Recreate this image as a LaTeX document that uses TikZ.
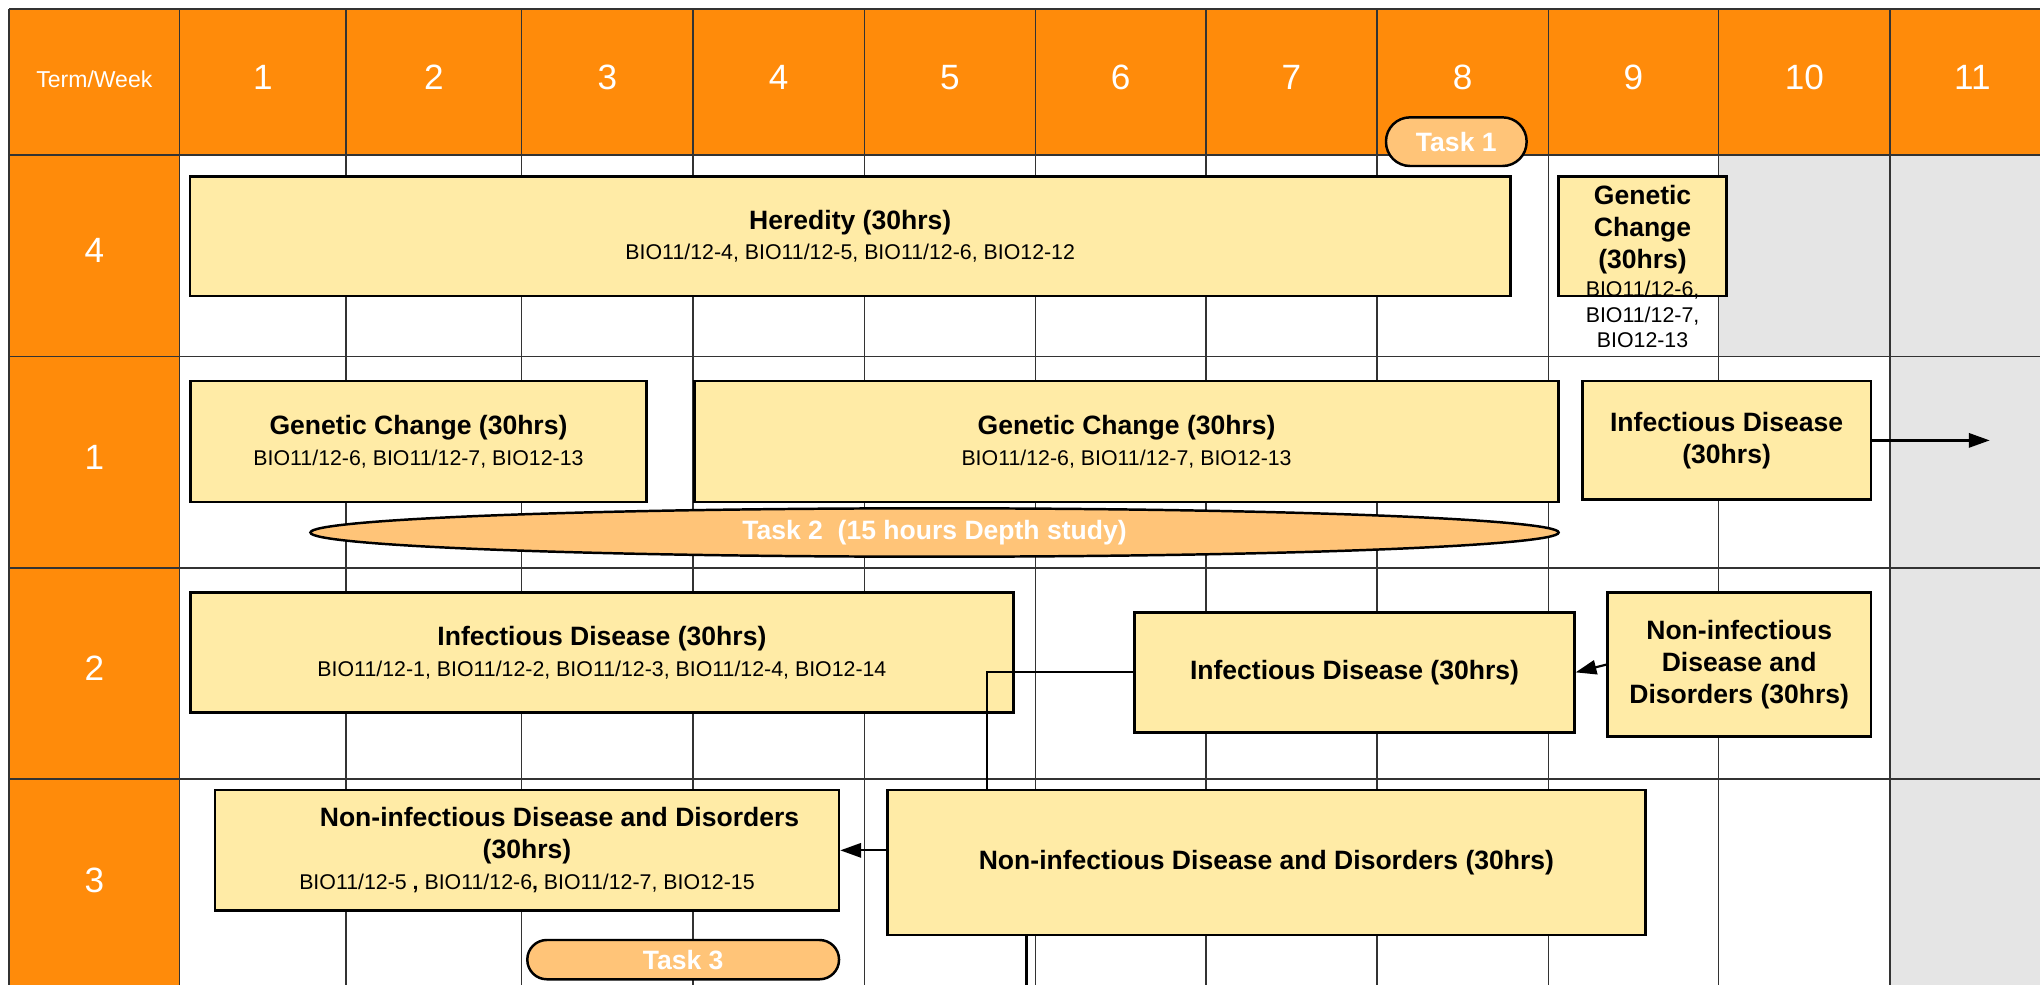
\documentclass[tikz,border=0pt]{standalone}
\usepackage{fontspec}
\setmainfont{Liberation Sans}
\usetikzlibrary{arrows.meta,shapes.geometric,shadows}
\definecolor{hdr}{RGB}{255,139,10}
\definecolor{boxy}{RGB}{255,235,166}
\definecolor{taskc}{RGB}{255,196,120}
\definecolor{cellg}{RGB}{229,229,229}
\newcommand\bfnt{\fontsize{20.4}{24.5}\selectfont\bfseries}
\newcommand\rgfnt{\fontsize{16.4}{19.7}\selectfont\mdseries}
\begin{document}
\begin{tikzpicture}[x=1pt,y=-1pt,
  topic/.style={draw=black,line width=1.9pt,fill=boxy,inner sep=0pt,align=center,
    drop shadow={shadow xshift=1pt,shadow yshift=-1pt,fill=black!30}},
  task/.style={draw=black,line width=1.9pt,fill=taskc,inner sep=0pt,text=white,font=\bfnt},
  gridln/.style={draw=black!80,line width=1pt},
  link/.style={draw=black,line width=1.7pt},
  arr/.style={link,-{Triangle[length=16pt,width=11pt]}},
  hd/.style={text=white,inner sep=0pt,font=\fontsize{27}{32}\selectfont}]
\useasboundingbox (0,0) rectangle (1568,757);
\clip (0,0) rectangle (1568,757);
\fill[white] (0,0) rectangle (1568,757);
\fill[hdr] (7,7) rectangle (1600,119.4);
\fill[hdr] (7,119.4) rectangle (138,800);
\fill[cellg] (1321,119.4) rectangle (1452.7,274);
\fill[cellg] (1452.7,119.4) rectangle (1600,800);
\foreach \x in {7,138,266,401,532.6,664.3,795.8,927,1058.3,1190,1321,1452.7}
  \draw[gridln] (\x,7) -- (\x,800);
\foreach \y in {7,119.4,274,436.6,598.8}
  \draw[gridln,line width=1.3pt] (7,\y) -- (1600,\y);
% header
\node[hd,font=\fontsize{17.7}{21}\selectfont] (tw) at (72.5,61) {Term/Week};
\foreach \n/\x in {1/202,2/333.5,3/466.8,4/598.45,5/730.05,6/861.4,7/992.65,8/1124.15,9/1255.5,10/1386.85,11/1516}
  \node[hd] (w\n) at (\x,59.7) {\n};
\node[hd] (r4) at (72.5,192.7) {4};
\node[hd] (r1) at (72.5,351.5) {1};
\node[hd] (r2) at (72.5,513.7) {2};
\node[hd] (r3) at (72.5,676.4) {3};
% term 4
\node[topic,font=\rgfnt,minimum width=1015pt,minimum height=91.7pt] (her) at (653.5,181.65)
  {{\bfnt Heredity (30hrs)}\\[3.7pt]BIO11/12-4, BIO11/12-5, BIO11/12-6, BIO12-12};
\node[topic,minimum width=129pt,minimum height=91.7pt] (gc4) at (1262.5,181.65) {};
\node[align=center,inner sep=0pt,anchor=north,font=\rgfnt] (gc4t) at (1262.5,142.4)
  {{\bfnt Genetic}\\[4.8pt]{\bfnt Change}\\[4.8pt]{\bfnt (30hrs)}\\[1.6pt]BIO11/12-6,\\[0.6pt]BIO11/12-7,\\[-0.3pt]BIO12-13};
\node[task,rounded corners=18.5pt,minimum width=108.1pt,minimum height=37.4pt] (t1) at (1119.35,108.9) {Task 1};
% term 1
\node[topic,font=\rgfnt,minimum width=350.7pt,minimum height=92.9pt] (gc1a) at (321.65,339.45)
  {{\bfnt Genetic Change (30hrs)}\\[3.7pt]BIO11/12-6, BIO11/12-7, BIO12-13};
\node[topic,font=\rgfnt,minimum width=664.2pt,minimum height=93pt] (gc1b) at (865.9,339.5)
  {{\bfnt Genetic Change (30hrs)}\\[3.7pt]BIO11/12-6, BIO11/12-7, BIO12-13};
\node[task,ellipse,minimum width=959.4pt,minimum height=37.2pt] (t2) at (718.3,409.3)
  {Task 2\ \ (15 hours Depth study)};
\node[topic,font=\bfnt,minimum width=221.8pt,minimum height=91pt] (id1) at (1327.1,338.5)
  {Infectious Disease\\(30hrs)};
% term 2
\node[topic,font=\rgfnt,minimum width=632.7pt,minimum height=92.3pt] (id2a) at (462.65,501.65)
  {{\bfnt Infectious Disease (30hrs)}\\[3.7pt]BIO11/12-1, BIO11/12-2, BIO11/12-3, BIO11/12-4, BIO12-14};
\node[topic,font=\bfnt,minimum width=338pt,minimum height=92.2pt] (id2b) at (1041.1,516.8)
  {Infectious Disease (30hrs)};
\node[topic,font=\bfnt,minimum width=202.4pt,minimum height=110.7pt] (ni2) at (1336.8,510.85)
  {Non-infectious\\Disease and\\Disorders (30hrs)};
% term 3
\node[topic,font=\bfnt,minimum width=479.7pt,minimum height=92.8pt] (ni3a) at (405.05,653.6)
  {\hspace*{50pt}Non-infectious Disease and Disorders\\(30hrs)\\[-0.5pt]{\rgfnt BIO11/12-5 \textbf{,} BIO11/12-6\textbf{,} BIO11/12-7, BIO12-15}};
\node[topic,font=\bfnt,minimum width=582.6pt,minimum height=111.5pt] (ni3b) at (973.4,662.95)
  {Non-infectious Disease and Disorders (30hrs)};
\node[task,rounded corners=15pt,minimum width=239.6pt,minimum height=30.2pt] (t3) at (525.1,737.6) {Task 3};
% connectors
\coordinate (a1e) at (1529.3,338.5);
\draw[arr] (id1.east) -- (a1e);
\draw[arr] (ni2.west) -- (id2b.east);
\coordinate (c3) at (758.4,0);
\draw[link] (id2b.west) -| (c3 |- ni3b.north);
\draw[arr] (ni3b.west |- ni3a.east) -- (ni3a.east);
\coordinate (c5) at (789,800);
\draw[link] (c5 |- ni3b.south) -- (c5);
\end{tikzpicture}
\end{document}
